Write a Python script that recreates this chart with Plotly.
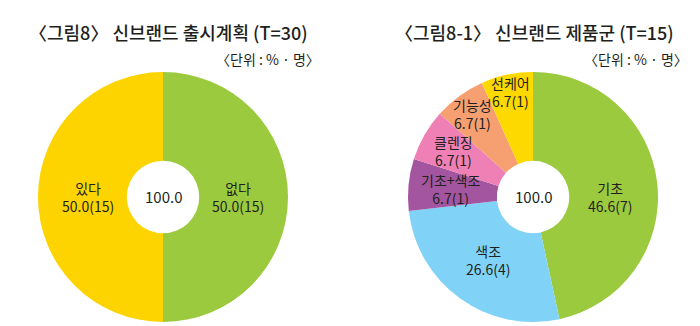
import math
import plotly.graph_objects as go

# Chart 8: new-brand launch plan (T=30)
plan_labels = ["없다", "있다"]
plan_pct = [50.0, 50.0]
plan_n = [15, 15]

# Chart 8-1: new-brand product groups (T=15)
group_labels = ["기초", "색조", "기초+색조", "클렌징", "기능성", "선케어"]
group_pct = [46.6, 26.6, 6.7, 6.7, 6.7, 6.7]
group_n = [7, 4, 1, 1, 1, 1]

plan_colors = ["#9BCA3E", "#FDD300"]
group_colors = ["#9BCA3E", "#80D3F6", "#A3569F", "#EF80B6", "#F6A072", "#FDD900"]

W, H = 700, 326
FONT = "Noto Sans CJK KR"
INK = "#231F20"

fig = go.Figure()

# pixel geometry of each donut
R = 125
HOLE = 0.29
left_c = (163, 197)
right_c = (533, 197)


def domain(c):
    cx, cy = c
    return dict(x=[(cx - R) / W, (cx + R) / W],
                y=[1 - (cy + R) / H, 1 - (cy - R) / H])


fig.add_trace(go.Pie(
    labels=plan_labels, values=plan_pct, sort=False, direction="clockwise",
    rotation=0, hole=HOLE, marker=dict(colors=plan_colors, line=dict(width=0)),
    textinfo="none", hoverinfo="label+percent", showlegend=False,
    domain=domain(left_c),
))
fig.add_trace(go.Pie(
    labels=group_labels, values=group_pct, sort=False, direction="clockwise",
    rotation=0, hole=HOLE, marker=dict(colors=group_colors, line=dict(width=0)),
    textinfo="none", hoverinfo="label+percent", showlegend=False,
    domain=domain(right_c),
))

annotations = []


def slice_labels(center, labels, pct, counts, radii, yshifts):
    cx, cy = center
    total = sum(pct)
    cum = 0.0
    for lab, p, n, r, ys in zip(labels, pct, counts, radii, yshifts):
        mid = (cum + p / 2) / total * 2 * math.pi
        cum += p
        px = cx + r * math.sin(mid)
        py = cy - r * math.cos(mid)
        annotations.append(dict(
            x=px / W, y=1 - py / H, xref="paper", yref="paper",
            text=f"{lab}<br>{p:.1f}({n})", showarrow=False, yshift=ys,
            font=dict(family=FONT, size=14, color=INK),
            xanchor="center", yanchor="middle", align="center",
        ))


slice_labels(left_c, plan_labels, plan_pct, plan_n, [75, 75], [0, 0])
slice_labels(right_c, group_labels, group_pct, group_n,
             [77, 78, 83, 92, 103, 107], [-8, 0, 0, 0, 0, 0])

for c, tot in ((left_c, sum(plan_pct)), (right_c, sum(group_pct))):
    annotations.append(dict(
        x=c[0] / W, y=1 - c[1] / H, xref="paper", yref="paper",
        text=f"{round(tot, 0):.1f}", showarrow=False,
        font=dict(family=FONT, size=15, color=INK),
        xanchor="center", yanchor="middle",
    ))

# titles and unit notes
for text, x in (("〈그림8〉 신브랜드 출시계획 (T=30)", 27 / W),
                ("〈그림8-1〉 신브랜드 제품군 (T=15)", 393 / W)):
    annotations.append(dict(
        x=x, y=1 - 32 / H, xref="paper", yref="paper", text=text,
        showarrow=False, xanchor="left", yanchor="middle",
        font=dict(family=FONT, size=18, color=INK, weight=500),
    ))
for x in (322 / W, 690 / W):
    annotations.append(dict(
        x=x, y=1 - 59 / H, xref="paper", yref="paper", text="〈단위 : % · 명〉",
        showarrow=False, xanchor="right", yanchor="middle",
        font=dict(family=FONT, size=14, color=INK),
    ))

fig.update_layout(
    width=W, height=H, margin=dict(l=0, r=0, t=0, b=0),
    paper_bgcolor="white", plot_bgcolor="white",
    annotations=annotations,
)

fig.write_html("out.html")
